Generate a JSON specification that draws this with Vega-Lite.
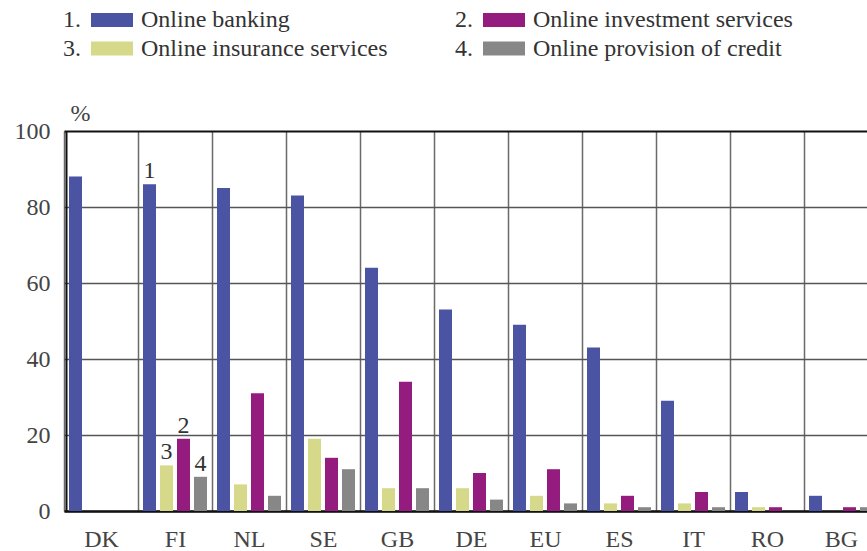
{
  "$schema": "https://vega.github.io/schema/vega-lite/v6.json",
  "width": 801,
  "height": 380,
  "autosize": {"type": "none"},
  "padding": {"left": 66, "top": 131, "right": 0, "bottom": 40},
  "config": {"view": {"stroke": null}, "font": "Liberation Serif"},
  "data": {
    "values": [
      {"country": "DK", "service": "Online banking", "value": 88, "note": ""},
      {"country": "DK", "service": "Online insurance services", "value": 0, "note": ""},
      {"country": "DK", "service": "Online investment services", "value": 0, "note": ""},
      {"country": "DK", "service": "Online provision of credit", "value": 0, "note": ""},
      {"country": "FI", "service": "Online banking", "value": 86, "note": "1"},
      {"country": "FI", "service": "Online insurance services", "value": 12, "note": "3"},
      {"country": "FI", "service": "Online investment services", "value": 19, "note": "2"},
      {"country": "FI", "service": "Online provision of credit", "value": 9, "note": "4"},
      {"country": "NL", "service": "Online banking", "value": 85, "note": ""},
      {"country": "NL", "service": "Online insurance services", "value": 7, "note": ""},
      {"country": "NL", "service": "Online investment services", "value": 31, "note": ""},
      {"country": "NL", "service": "Online provision of credit", "value": 4, "note": ""},
      {"country": "SE", "service": "Online banking", "value": 83, "note": ""},
      {"country": "SE", "service": "Online insurance services", "value": 19, "note": ""},
      {"country": "SE", "service": "Online investment services", "value": 14, "note": ""},
      {"country": "SE", "service": "Online provision of credit", "value": 11, "note": ""},
      {"country": "GB", "service": "Online banking", "value": 64, "note": ""},
      {"country": "GB", "service": "Online insurance services", "value": 6, "note": ""},
      {"country": "GB", "service": "Online investment services", "value": 34, "note": ""},
      {"country": "GB", "service": "Online provision of credit", "value": 6, "note": ""},
      {"country": "DE", "service": "Online banking", "value": 53, "note": ""},
      {"country": "DE", "service": "Online insurance services", "value": 6, "note": ""},
      {"country": "DE", "service": "Online investment services", "value": 10, "note": ""},
      {"country": "DE", "service": "Online provision of credit", "value": 3, "note": ""},
      {"country": "EU", "service": "Online banking", "value": 49, "note": ""},
      {"country": "EU", "service": "Online insurance services", "value": 4, "note": ""},
      {"country": "EU", "service": "Online investment services", "value": 11, "note": ""},
      {"country": "EU", "service": "Online provision of credit", "value": 2, "note": ""},
      {"country": "ES", "service": "Online banking", "value": 43, "note": ""},
      {"country": "ES", "service": "Online insurance services", "value": 2, "note": ""},
      {"country": "ES", "service": "Online investment services", "value": 4, "note": ""},
      {"country": "ES", "service": "Online provision of credit", "value": 1, "note": ""},
      {"country": "IT", "service": "Online banking", "value": 29, "note": ""},
      {"country": "IT", "service": "Online insurance services", "value": 2, "note": ""},
      {"country": "IT", "service": "Online investment services", "value": 5, "note": ""},
      {"country": "IT", "service": "Online provision of credit", "value": 1, "note": ""},
      {"country": "RO", "service": "Online banking", "value": 5, "note": ""},
      {"country": "RO", "service": "Online insurance services", "value": 1, "note": ""},
      {"country": "RO", "service": "Online investment services", "value": 1, "note": ""},
      {"country": "RO", "service": "Online provision of credit", "value": 0, "note": ""},
      {"country": "BG", "service": "Online banking", "value": 4, "note": ""},
      {"country": "BG", "service": "Online insurance services", "value": 0, "note": ""},
      {"country": "BG", "service": "Online investment services", "value": 1, "note": ""},
      {"country": "BG", "service": "Online provision of credit", "value": 1, "note": ""}
    ]
  },
  "layer": [
    {
      "mark": {"type": "bar"},
      "encoding": {
        "x": {
          "field": "country",
          "type": "nominal",
          "sort": ["DK", "FI", "NL", "SE", "GB", "DE", "EU", "ES", "IT", "RO", "BG"],
          "scale": {"range": [-2, 812], "paddingInner": 0, "paddingOuter": 0},
          "axis": {
            "title": null,
            "labelAngle": 0,
            "ticks": false,
            "tickBand": "extent",
            "grid": true,
            "gridColor": "#6a6a6a",
            "gridWidth": 1.5,
            "domain": true,
            "domainColor": "#111",
            "domainWidth": 2.5,
            "labelFont": "Liberation Serif",
            "labelFontSize": 24,
            "labelColor": "#444",
            "labelPadding": 16
          }
        },
        "xOffset": {
          "field": "service",
          "type": "nominal",
          "sort": ["Online banking", "Online insurance services", "Online investment services", "Online provision of credit"],
          "scale": {"paddingInner": 0.235, "paddingOuter": 0.294}
        },
        "y": {
          "field": "value",
          "type": "quantitative",
          "scale": {"domain": [0, 100]},
          "axis": {
            "values": [0, 20, 40, 60, 80, 100],
            "ticks": false,
            "grid": true,
            "gridColor": {"condition": {"test": "datum.value === 100", "value": "#111"}, "value": "#555"},
            "gridWidth": {"condition": {"test": "datum.value === 100", "value": 2}, "value": 1.5},
            "domain": true,
            "domainColor": "#111",
            "domainWidth": 2,
            "labelFont": "Liberation Serif",
            "labelFontSize": 24,
            "labelColor": "#444",
            "labelPadding": 16,
            "title": "%",
            "titleAngle": 0,
            "titleAlign": "left",
            "titleBaseline": "alphabetic",
            "titleX": 4,
            "titleY": -11,
            "titleFont": "Liberation Serif",
            "titleFontSize": 24,
            "titleFontWeight": "normal",
            "titleColor": "#444"
          }
        },
        "color": {
          "field": "service",
          "type": "nominal",
          "scale": {
            "domain": ["Online banking", "Online insurance services", "Online investment services", "Online provision of credit"],
            "range": ["#4b53a3", "#d6d98a", "#951c7f", "#878787"]
          },
          "legend": {
            "orient": "none",
            "legendX": -3,
            "legendY": -125,
            "columns": 2,
            "columnPadding": 67,
            "rowPadding": 2.5,
            "padding": 0,
            "title": null,
            "symbolType": "M-1.5,-0.5H1.5V0.5H-1.5Z",
            "symbolSize": 784,
            "symbolStrokeWidth": 0,
            "symbolOffset": 35,
            "labelOffset": -63,
            "labelFont": "Liberation Serif",
            "labelFontSize": 24,
            "labelColor": "#333",
            "labelLimit": 800,
            "labelExpr": "{'Online banking':'1.','Online investment services':'2.','Online insurance services':'3.','Online provision of credit':'4.'}[datum.label] + '\u00a0\u00a0\u00a0\u00a0\u00a0\u00a0\u00a0\u00a0\u00a0\u00a0' + datum.label"
          }
        }
      }
    },
    {
      "transform": [{"filter": "datum.note != ''"}],
      "mark": {"type": "text", "baseline": "alphabetic", "dy": -6, "fontSize": 24, "font": "Liberation Serif", "color": "#333"},
      "encoding": {
        "x": {"field": "country", "type": "nominal", "sort": ["DK", "FI", "NL", "SE", "GB", "DE", "EU", "ES", "IT", "RO", "BG"]},
        "xOffset": {
          "field": "service",
          "type": "nominal",
          "sort": ["Online banking", "Online insurance services", "Online investment services", "Online provision of credit"]
        },
        "y": {"field": "value", "type": "quantitative"},
        "text": {"field": "note"}
      }
    }
  ]
}
